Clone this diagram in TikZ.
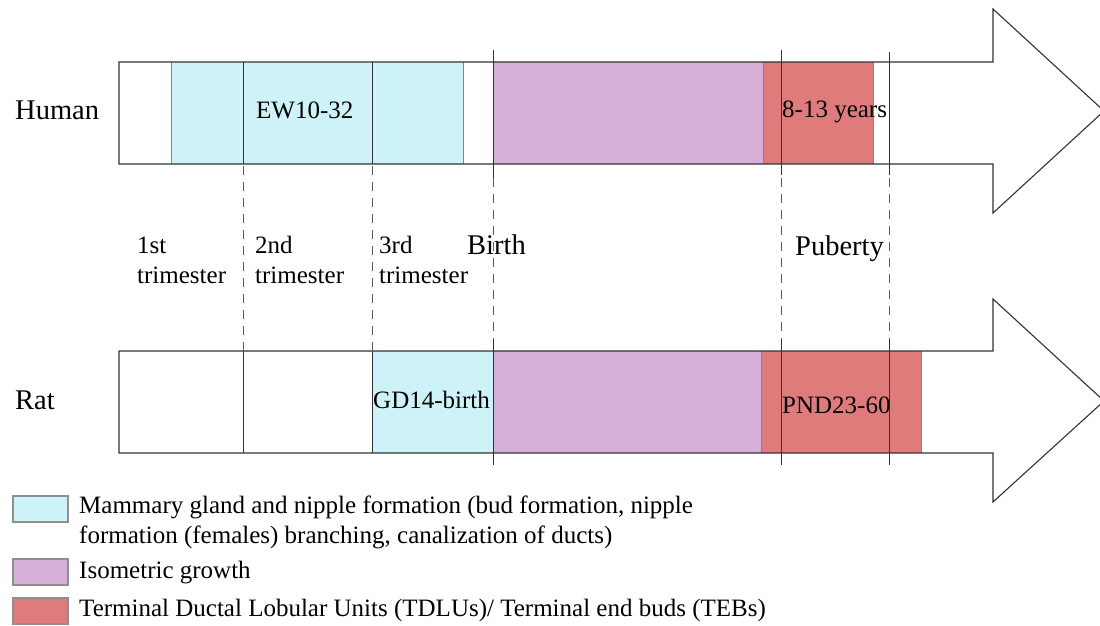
\documentclass[tikz,border=0pt]{standalone}
\usepackage{fontspec}
\setmainfont{Liberation Serif}
\definecolor{cy}{HTML}{CDF2F7}
\definecolor{pu}{HTML}{D7B0D9}
\definecolor{rd}{HTML}{E07B7B}
\definecolor{ln}{HTML}{333333}
\begin{document}
\begin{tikzpicture}[x=1pt,y=-1pt,
  outl/.style={draw=ln,line width=1.1pt},
  seg/.style={draw=ln!60,line width=0.8pt},
  vl/.style={draw=ln,line width=1pt},
  dl/.style={draw=ln!80,line width=1pt,dash pattern=on 9pt off 7pt},
  legbox/.style={draw=ln!55,line width=1.4pt},
  lab/.style={font=\fontsize{25}{28}\selectfont,inner sep=0pt,anchor=base west},
  big/.style={font=\fontsize{28.5}{32}\selectfont,inner sep=0pt,anchor=base west}]
\useasboundingbox (0,0) rectangle (1100,626);
% Human arrow
\fill[white] (119,62)--(993,62)--(993,9)--(1104,111)--(993,213)--(993,164)--(119,164)--cycle;
\fill[cy] (171,62) rectangle (463,164);
\fill[pu] (493,62) rectangle (763,164);
\fill[rd] (763,62) rectangle (873,164);
\draw[seg] (171,62)--(171,164) (463,62)--(463,164) (763,62)--(763,164) (873,62)--(873,164);
\draw[outl] (119,62)--(993,62)--(993,9)--(1104,111)--(993,213)--(993,164)--(119,164)--cycle;
% Rat arrow
\fill[white] (119,351)--(993,351)--(993,299)--(1104,401)--(993,502)--(993,453)--(119,453)--cycle;
\fill[cy] (372,351) rectangle (493,453);
\fill[pu] (493,351) rectangle (761,453);
\fill[rd] (761,351) rectangle (921,453);
\draw[seg] (761,351)--(761,453) (921,351)--(921,453);
\draw[outl] (119,351)--(993,351)--(993,299)--(1104,401)--(993,502)--(993,453)--(119,453)--cycle;
% vertical lines
\draw[vl] (243,62)--(243,164) (372,62)--(372,164);
\draw[vl] (243,351)--(243,453) (372,351)--(372,453);
\draw[vl] (493,50)--(493,178) (493,340)--(493,465);
\draw[vl] (781,50)--(781,175) (781,340)--(781,465);
\draw[vl] (889,52)--(889,175) (889,340)--(889,465);
\draw[dl] (243,166)--(243,350) (372,166)--(372,350) (493,178)--(493,340) (781,178)--(781,340) (889,178)--(889,340);
% labels
\node[big] (human) at (15,119) {Human};
\node[big] (rat) at (15,409) {Rat};
\node[lab] (ew) at (256,118) {EW10-32};
\node[lab] (yrs) at (782,117) {8-13 years};
\node[lab] (gd) at (373,408) {GD14-birth};
\node[lab] (pnd) at (782,413) {PND23-60};
\node[lab] (t1a) at (137,253) {1st};
\node[lab] (t1b) at (137,283) {trimester};
\node[lab] (t2a) at (255,253) {2nd};
\node[lab] (t2b) at (255,283) {trimester};
\node[lab] (t3a) at (379,253) {3rd};
\node[lab] (t3b) at (379,283) {trimester};
\node[big] (birth) at (467,254) {Birth};
\node[big] (pub) at (795,255) {Puberty};
% legend
\draw[legbox,fill=cy] (13,496) rectangle (68,522);
\draw[legbox,fill=pu] (13,559) rectangle (68,585);
\draw[legbox,fill=rd] (13,598) rectangle (68,624);
\node[lab] (l1a) at (79,513) {Mammary gland and nipple formation (bud formation, nipple};
\node[lab] (l1b) at (79,543) {formation (females) branching, canalization of ducts)};
\node[lab] (l2) at (79,578) {Isometric growth};
\node[lab] (l3) at (79,616) {Terminal Ductal Lobular Units (TDLUs)/ Terminal end buds (TEBs)};
\end{tikzpicture}
\end{document}
